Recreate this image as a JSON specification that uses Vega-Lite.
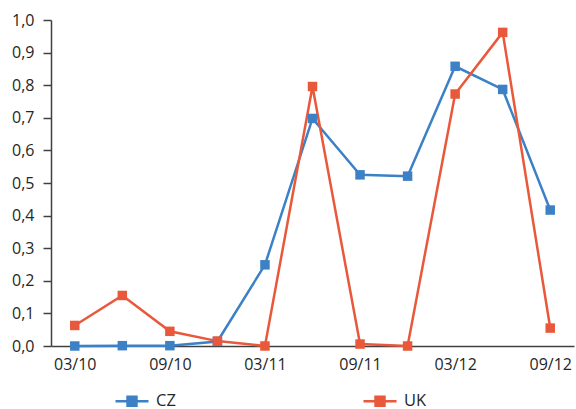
{
  "$schema": "https://vega.github.io/schema/vega-lite/v6.json",
  "width": 523,
  "height": 326,
  "padding": {"left": 51, "top": 20, "right": 2, "bottom": 63},
  "autosize": "none",
  "background": "white",
  "config": {
    "view": {"stroke": null},
    "font": "Open Sans"
  },
  "data": {
    "values": [
      {"t": "03/10", "country": "CZ", "v": 0.0},
      {"t": "06/10", "country": "CZ", "v": 0.001},
      {"t": "09/10", "country": "CZ", "v": 0.001},
      {"t": "12/10", "country": "CZ", "v": 0.014},
      {"t": "03/11", "country": "CZ", "v": 0.249},
      {"t": "06/11", "country": "CZ", "v": 0.698},
      {"t": "09/11", "country": "CZ", "v": 0.525},
      {"t": "12/11", "country": "CZ", "v": 0.521},
      {"t": "03/12", "country": "CZ", "v": 0.858},
      {"t": "06/12", "country": "CZ", "v": 0.787},
      {"t": "09/12", "country": "CZ", "v": 0.417},
      {"t": "03/10", "country": "UK", "v": 0.063},
      {"t": "06/10", "country": "UK", "v": 0.155},
      {"t": "09/10", "country": "UK", "v": 0.045},
      {"t": "12/10", "country": "UK", "v": 0.015},
      {"t": "03/11", "country": "UK", "v": 0.0},
      {"t": "06/11", "country": "UK", "v": 0.796},
      {"t": "09/11", "country": "UK", "v": 0.006},
      {"t": "12/11", "country": "UK", "v": 0.0},
      {"t": "03/12", "country": "UK", "v": 0.773},
      {"t": "06/12", "country": "UK", "v": 0.962},
      {"t": "09/12", "country": "UK", "v": 0.055}
    ]
  },
  "mark": {
    "type": "line",
    "strokeWidth": 2.5,
    "point": {"shape": "square", "size": 90, "filled": true, "opacity": 1}
  },
  "encoding": {
    "x": {
      "field": "t",
      "type": "ordinal",
      "sort": null,
      "scale": {"type": "point", "padding": 0.5},
      "axis": {
        "title": null,
        "values": ["03/10", "09/10", "03/11", "09/11", "03/12", "09/12"],
        "labelAngle": 0,
        "labelFontSize": 16,
        "labelColor": "#262626",
        "labelPadding": 10,
        "ticks": false,
        "domainColor": "#404040",
        "domainWidth": 1.5,
        "grid": false
      }
    },
    "y": {
      "field": "v",
      "type": "quantitative",
      "scale": {"domain": [0, 1], "nice": false, "zero": true},
      "axis": {
        "title": null,
        "values": [0, 0.1, 0.2, 0.3, 0.4, 0.5, 0.6, 0.7, 0.8, 0.9, 1.0],
        "labelExpr": "replace(format(datum.value, '.1f'), '.', ',')",
        "labelFontSize": 16,
        "labelColor": "#262626",
        "labelPadding": 9,
        "tickSize": 8,
        "tickColor": "#404040",
        "tickWidth": 1.5,
        "domainColor": "#404040",
        "domainWidth": 1.5,
        "grid": false
      }
    },
    "color": {
      "field": "country",
      "type": "nominal",
      "scale": {"domain": ["CZ", "UK"], "range": ["#3c80c6", "#e9583b"]},
      "legend": {
        "title": null,
        "orient": "none",
        "legendX": 63,
        "legendY": 363,
        "direction": "horizontal",
        "columns": 2,
        "columnPadding": 182,
        "labelFontSize": 16.5,
        "labelColor": "#262626",
        "labelOffset": 6,
        "symbolType": "M-1,0H1M-0.27,-0.27H0.27V0.27H-0.27Z",
        "symbolSize": 1089,
        "symbolStrokeWidth": 2.5,
        "encode": {
          "symbols": {
            "update": {
              "fill": {"scale": "color", "field": "value"},
              "stroke": {"scale": "color", "field": "value"},
              "strokeWidth": {"value": 2.5},
              "strokeOpacity": {"value": 1},
              "fillOpacity": {"value": 1},
              "opacity": {"value": 1}
            }
          }
        }
      }
    }
  }
}
